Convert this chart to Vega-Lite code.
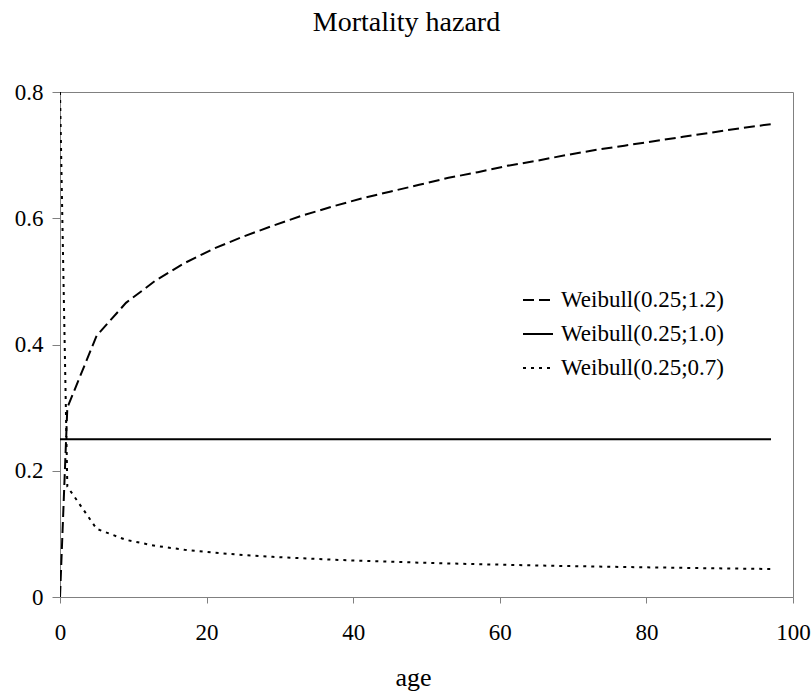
{
  "$schema": "https://vega.github.io/schema/vega-lite/v6.json",
  "width": 733,
  "height": 505,
  "autosize": "none",
  "padding": {"left": 60, "top": 92, "right": 18, "bottom": 96},
  "background": "white",
  "title": {
    "text": "Mortality hazard",
    "font": "Liberation Serif, Times New Roman, DejaVu Serif, serif",
    "fontSize": 28,
    "fontWeight": "normal",
    "color": "black",
    "anchor": "middle",
    "frame": "group",
    "dx": -20,
    "offset": 44
  },
  "config": {
    "view": {"stroke": "#808080", "strokeWidth": 1},
    "axis": {
      "grid": false,
      "domainColor": "#808080",
      "tickColor": "#808080",
      "labelFont": "Liberation Serif, Times New Roman, DejaVu Serif, serif",
      "labelFontSize": 23,
      "labelColor": "black",
      "labelFlush": false,
      "titleFont": "Liberation Serif, Times New Roman, DejaVu Serif, serif",
      "titleFontWeight": "normal",
      "titleColor": "black"
    }
  },
  "data": {
    "values": [
      {"age": 0, "series": "Weibull(0.25;1.2)", "h": 0},
      {"age": 1, "series": "Weibull(0.25;1.2)", "h": 0.3},
      {"age": 5, "series": "Weibull(0.25;1.2)", "h": 0.414},
      {"age": 9, "series": "Weibull(0.25;1.2)", "h": 0.466},
      {"age": 13, "series": "Weibull(0.25;1.2)", "h": 0.501},
      {"age": 17, "series": "Weibull(0.25;1.2)", "h": 0.529},
      {"age": 21, "series": "Weibull(0.25;1.2)", "h": 0.552},
      {"age": 25, "series": "Weibull(0.25;1.2)", "h": 0.571},
      {"age": 29, "series": "Weibull(0.25;1.2)", "h": 0.588},
      {"age": 33, "series": "Weibull(0.25;1.2)", "h": 0.604},
      {"age": 37, "series": "Weibull(0.25;1.2)", "h": 0.618},
      {"age": 41, "series": "Weibull(0.25;1.2)", "h": 0.631},
      {"age": 45, "series": "Weibull(0.25;1.2)", "h": 0.642},
      {"age": 49, "series": "Weibull(0.25;1.2)", "h": 0.653},
      {"age": 53, "series": "Weibull(0.25;1.2)", "h": 0.664},
      {"age": 57, "series": "Weibull(0.25;1.2)", "h": 0.673},
      {"age": 61, "series": "Weibull(0.25;1.2)", "h": 0.683},
      {"age": 65, "series": "Weibull(0.25;1.2)", "h": 0.691},
      {"age": 69, "series": "Weibull(0.25;1.2)", "h": 0.7},
      {"age": 73, "series": "Weibull(0.25;1.2)", "h": 0.708},
      {"age": 77, "series": "Weibull(0.25;1.2)", "h": 0.715},
      {"age": 81, "series": "Weibull(0.25;1.2)", "h": 0.722},
      {"age": 85, "series": "Weibull(0.25;1.2)", "h": 0.729},
      {"age": 89, "series": "Weibull(0.25;1.2)", "h": 0.736},
      {"age": 93, "series": "Weibull(0.25;1.2)", "h": 0.743},
      {"age": 97, "series": "Weibull(0.25;1.2)", "h": 0.749},
      {"age": 0, "series": "Weibull(0.25;1.0)", "h": 0.25},
      {"age": 1, "series": "Weibull(0.25;1.0)", "h": 0.25},
      {"age": 5, "series": "Weibull(0.25;1.0)", "h": 0.25},
      {"age": 9, "series": "Weibull(0.25;1.0)", "h": 0.25},
      {"age": 13, "series": "Weibull(0.25;1.0)", "h": 0.25},
      {"age": 17, "series": "Weibull(0.25;1.0)", "h": 0.25},
      {"age": 21, "series": "Weibull(0.25;1.0)", "h": 0.25},
      {"age": 25, "series": "Weibull(0.25;1.0)", "h": 0.25},
      {"age": 29, "series": "Weibull(0.25;1.0)", "h": 0.25},
      {"age": 33, "series": "Weibull(0.25;1.0)", "h": 0.25},
      {"age": 37, "series": "Weibull(0.25;1.0)", "h": 0.25},
      {"age": 41, "series": "Weibull(0.25;1.0)", "h": 0.25},
      {"age": 45, "series": "Weibull(0.25;1.0)", "h": 0.25},
      {"age": 49, "series": "Weibull(0.25;1.0)", "h": 0.25},
      {"age": 53, "series": "Weibull(0.25;1.0)", "h": 0.25},
      {"age": 57, "series": "Weibull(0.25;1.0)", "h": 0.25},
      {"age": 61, "series": "Weibull(0.25;1.0)", "h": 0.25},
      {"age": 65, "series": "Weibull(0.25;1.0)", "h": 0.25},
      {"age": 69, "series": "Weibull(0.25;1.0)", "h": 0.25},
      {"age": 73, "series": "Weibull(0.25;1.0)", "h": 0.25},
      {"age": 77, "series": "Weibull(0.25;1.0)", "h": 0.25},
      {"age": 81, "series": "Weibull(0.25;1.0)", "h": 0.25},
      {"age": 85, "series": "Weibull(0.25;1.0)", "h": 0.25},
      {"age": 89, "series": "Weibull(0.25;1.0)", "h": 0.25},
      {"age": 93, "series": "Weibull(0.25;1.0)", "h": 0.25},
      {"age": 97, "series": "Weibull(0.25;1.0)", "h": 0.25},
      {"age": 0, "series": "Weibull(0.25;0.7)", "h": 0.8},
      {"age": 1, "series": "Weibull(0.25;0.7)", "h": 0.175},
      {"age": 5, "series": "Weibull(0.25;0.7)", "h": 0.108},
      {"age": 9, "series": "Weibull(0.25;0.7)", "h": 0.0905},
      {"age": 13, "series": "Weibull(0.25;0.7)", "h": 0.0811},
      {"age": 17, "series": "Weibull(0.25;0.7)", "h": 0.0748},
      {"age": 21, "series": "Weibull(0.25;0.7)", "h": 0.0702},
      {"age": 25, "series": "Weibull(0.25;0.7)", "h": 0.0666},
      {"age": 29, "series": "Weibull(0.25;0.7)", "h": 0.0637},
      {"age": 33, "series": "Weibull(0.25;0.7)", "h": 0.0613},
      {"age": 37, "series": "Weibull(0.25;0.7)", "h": 0.0592},
      {"age": 41, "series": "Weibull(0.25;0.7)", "h": 0.0574},
      {"age": 45, "series": "Weibull(0.25;0.7)", "h": 0.0559},
      {"age": 49, "series": "Weibull(0.25;0.7)", "h": 0.0544},
      {"age": 53, "series": "Weibull(0.25;0.7)", "h": 0.0532},
      {"age": 57, "series": "Weibull(0.25;0.7)", "h": 0.052},
      {"age": 61, "series": "Weibull(0.25;0.7)", "h": 0.051},
      {"age": 65, "series": "Weibull(0.25;0.7)", "h": 0.05},
      {"age": 69, "series": "Weibull(0.25;0.7)", "h": 0.0491},
      {"age": 73, "series": "Weibull(0.25;0.7)", "h": 0.0483},
      {"age": 77, "series": "Weibull(0.25;0.7)", "h": 0.0475},
      {"age": 81, "series": "Weibull(0.25;0.7)", "h": 0.0468},
      {"age": 85, "series": "Weibull(0.25;0.7)", "h": 0.0462},
      {"age": 89, "series": "Weibull(0.25;0.7)", "h": 0.0455},
      {"age": 93, "series": "Weibull(0.25;0.7)", "h": 0.0449},
      {"age": 97, "series": "Weibull(0.25;0.7)", "h": 0.0444}
    ]
  },
  "mark": {"type": "line", "color": "black", "strokeWidth": 2, "clip": true},
  "encoding": {
    "x": {
      "field": "age",
      "type": "quantitative",
      "scale": {"domain": [0, 100], "nice": false, "zero": false},
      "axis": {
        "values": [0, 20, 40, 60, 80, 100],
        "tickSize": 6,
        "labelPadding": 18,
        "title": "age",
        "titleFontSize": 26,
        "titleX": 353,
        "titleY": 88,
        "titleBaseline": "alphabetic",
        "titleAnchor": "start",
        "titleAlign": "center"
      }
    },
    "y": {
      "field": "h",
      "type": "quantitative",
      "scale": {"domain": [0, 0.8], "nice": false},
      "axis": {
        "values": [0, 0.2, 0.4, 0.6, 0.8],
        "format": "~g",
        "tickSize": 8,
        "labelPadding": 9,
        "title": null
      }
    },
    "strokeDash": {
      "field": "series",
      "type": "nominal",
      "sort": null,
      "scale": {
        "domain": ["Weibull(0.25;1.2)", "Weibull(0.25;1.0)", "Weibull(0.25;0.7)"],
        "range": [[11, 5], [1, 0], [3, 5]]
      },
      "legend": {
        "title": null,
        "orient": "none",
        "legendX": 462,
        "legendY": 192,
        "symbolType": "stroke",
        "symbolSize": 900,
        "symbolStrokeWidth": 2,
        "symbolStrokeColor": "black",
        "labelFont": "Liberation Serif, Times New Roman, DejaVu Serif, serif",
        "labelFontSize": 23,
        "labelLimit": 400,
        "labelColor": "black",
        "labelOffset": 7,
        "rowPadding": 6
      }
    }
  }
}
